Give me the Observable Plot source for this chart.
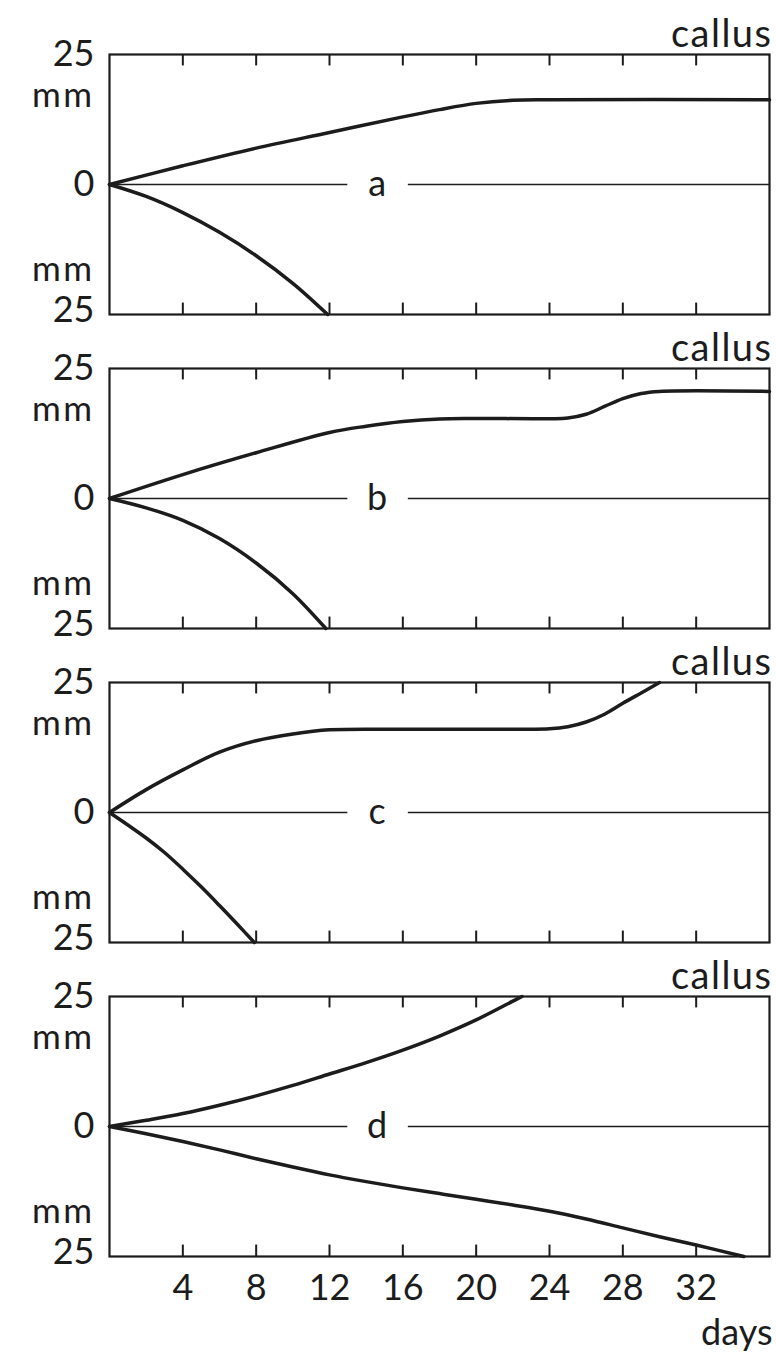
<!DOCTYPE html>
<html>
<head>
<meta charset="utf-8">
<script src="https://cdn.jsdelivr.net/npm/d3@7"></script>
<script src="https://cdn.jsdelivr.net/npm/@observablehq/plot@0.6"></script>
<style>
  html, body { margin: 0; padding: 0; background: #fff; }
  #chart svg { display: block; }
</style>
</head>
<body>
<div id="chart"></div>
<script>
// Panels and axis ticks
const panels = ["a", "b", "c", "d"];
const dayTicks = [4, 8, 12, 16, 20, 24, 28, 32];
const mmUpper = [25, 0];
const mmLower = [-25];

// Growth (callus, upward) and resorption (downward), mm against days
const aCallusDays = [0, 4, 8, 12, 16, 18, 20, 22, 24, 36];
const aCallusMm   = [0, 3.6, 7.0, 10.0, 13.0, 14.4, 15.6, 16.2, 16.3, 16.3];
const aLossDays   = [0, 2, 4, 6, 8, 10, 11.9];
const aLossMm     = [0, -2.3, -5.4, -9.2, -13.7, -19.0, -25];

const bCallusDays = [0, 4, 8, 12, 14, 16, 18, 20, 25, 26, 27, 28, 29, 30, 36];
const bCallusMm   = [0, 4.6, 8.8, 12.7, 13.9, 14.8, 15.3, 15.4, 15.5, 16.2, 17.7, 19.2, 20.2, 20.6, 20.6];
const bLossDays   = [0, 2, 4, 6, 8, 10, 11.8];
const bLossMm     = [0, -1.8, -4.2, -7.7, -12.4, -18.3, -25];

const cCallusDays = [0, 2, 4, 6, 8, 10, 12, 16, 20, 24, 25, 26, 27, 28, 29, 30];
const cCallusMm   = [0, 4.4, 8.2, 11.6, 13.8, 15.1, 15.9, 16.0, 16.0, 16.1, 16.5, 17.4, 18.9, 21.0, 23.0, 25];
const cLossDays   = [0, 1, 2, 3, 4, 5, 6, 7, 7.9];
const cLossMm     = [0, -2.4, -4.9, -7.7, -10.9, -14.3, -17.9, -21.6, -25];

const dCallusDays = [0, 2, 4, 6, 8, 10, 12, 14, 16, 18, 20, 22, 22.5];
const dCallusMm   = [0, 1.2, 2.5, 4.1, 5.9, 7.9, 10.1, 12.3, 14.7, 17.4, 20.5, 24.1, 25];
const dLossDays   = [0, 2, 4, 6, 8, 10, 12, 14, 16, 18, 20, 22, 24, 26, 28, 30, 32, 34.6];
const dLossMm     = [0, -1.4, -2.9, -4.5, -6.2, -7.8, -9.3, -10.6, -11.8, -12.9, -14.0, -15.1, -16.3, -17.8, -19.5, -21.2, -22.8, -25];

// Where the panel letter interrupts the zero line (days)
const letterDay = 14.6;
const gapFrom = 13.0;
const gapTo = 16.3;

// Long-format table for the line mark
const rows = [];
function addSeries(panel, side, days, mm) {
  days.forEach((day, i) => rows.push({panel, side, day, mm: mm[i]}));
}
addSeries("a", "callus", aCallusDays, aCallusMm);
addSeries("a", "loss", aLossDays, aLossMm);
addSeries("b", "callus", bCallusDays, bCallusMm);
addSeries("b", "loss", bLossDays, bLossMm);
addSeries("c", "callus", cCallusDays, cCallusMm);
addSeries("c", "loss", cLossDays, cLossMm);
addSeries("d", "callus", dCallusDays, dCallusMm);
addSeries("d", "loss", dLossDays, dLossMm);

const ink = "#1c1c1c";
const font = "Lato, 'Open Sans', sans-serif";

const chart = Plot.plot({
  width: 776,
  height: 1359,
  marginTop: 52,
  marginBottom: 101,
  marginLeft: 109,
  marginRight: 7,
  style: {fontFamily: font, color: ink, background: "#fff"},
  x: {domain: [0, 36], axis: null},
  y: {domain: [-25, 25], axis: null},
  fy: {domain: panels, padding: 0.171, axis: null},
  marks: [
    // zero line, interrupted by the panel letter
    Plot.ruleY([0], {x1: 0, x2: gapFrom, stroke: ink, strokeWidth: 1.6}),
    Plot.ruleY([0], {x1: gapTo, x2: 36, stroke: ink, strokeWidth: 1.6}),
    Plot.text(panels, {
      fy: d => d, x: letterDay, y: 0, text: d => d,
      fontSize: 36, fill: ink
    }),
    // inward ticks along the top and bottom edges
    Plot.ruleX(dayTicks, {y1: -25, y2: -22.8, stroke: ink, strokeWidth: 2}),
    Plot.ruleX(dayTicks, {y1: 22.8, y2: 25, stroke: ink, strokeWidth: 2}),
    // growth curves
    Plot.line(rows, {
      x: "day", y: "mm", fy: "panel", z: "side",
      curve: "catmull-rom", stroke: ink, strokeWidth: 3.5, strokeLinecap: "round"
    }),
    Plot.frame({stroke: ink, strokeWidth: 2.2}),
    // left scale labels
    Plot.text(mmUpper, {
      x: 0, y: d => d, text: d => String(Math.abs(d)),
      textAnchor: "end", dx: -15, fontSize: 36, fill: ink
    }),
    Plot.text(mmLower, {
      x: 0, y: d => d, text: d => String(Math.abs(d)),
      textAnchor: "end", dx: -15, dy: -4, fontSize: 36, fill: ink
    }),
    Plot.text(["mm"], {
      frameAnchor: "top-left", textAnchor: "end", lineAnchor: "middle",
      dx: -15, dy: 41, fontSize: 35, fill: ink
    }),
    Plot.text(["mm"], {
      frameAnchor: "bottom-left", textAnchor: "end", lineAnchor: "middle",
      dx: -15, dy: -45, fontSize: 35, fill: ink
    }),
    Plot.text(["callus"], {
      frameAnchor: "top-right", textAnchor: "end", lineAnchor: "bottom",
      dx: 3, dy: -8, fontSize: 38, fill: ink
    }),
    // day axis under the last panel
    Plot.axisX(dayTicks, {
      tickSize: 0, tickPadding: 18, fontSize: 36, label: null, fill: ink
    }),
    Plot.text(["days"], {
      fy: ["d"], frameAnchor: "bottom-right", textAnchor: "end", lineAnchor: "bottom",
      dx: 3, dy: 88, fontSize: 36, fill: ink
    })
  ]
});

// Gill-style open spacing for the word labels
d3.select(chart).selectAll("text")
  .filter(function () { return this.textContent === "callus" || this.textContent === "mm"; })
  .attr("letter-spacing", function () { return this.textContent === "mm" ? 2.5 : 1.5; });

document.getElementById("chart").append(chart);
</script>
</body>
</html>
